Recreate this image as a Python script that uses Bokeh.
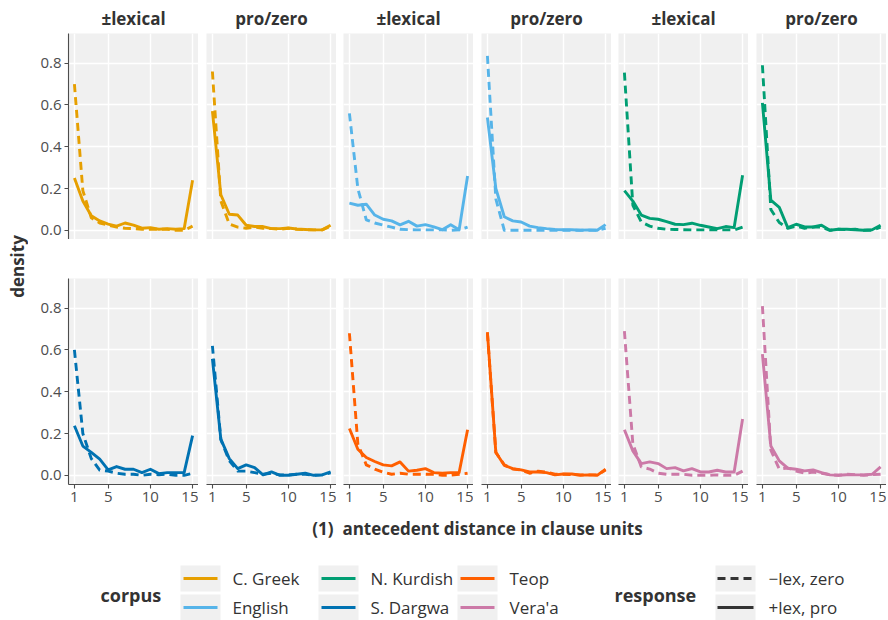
from bokeh.plotting import figure
from bokeh.layouts import row, column
from bokeh.models import Range1d, LinearAxis, FixedTicker, PrintfTickFormatter
from bokeh.core.properties import value
from bokeh.embed import file_html
from bokeh.resources import INLINE

# antecedent distance (clause units)
distance = list(range(1, 16))

# density by distance; "solid" = +lex / pro, "dashed" = -lex / zero
greek_lex_solid = [0.25, 0.14, 0.07, 0.045, 0.03, 0.02, 0.035, 0.025, 0.01, 0.013, 0.005, 0.008, 0.005, 0.008, 0.24]
greek_lex_dashed = [0.70, 0.19, 0.06, 0.035, 0.025, 0.015, 0.01, 0.008, 0.005, 0.005, 0.005, 0.005, 0.0, 0.0, 0.02]
greek_pro_solid = [0.57, 0.17, 0.077, 0.073, 0.024, 0.018, 0.018, 0.008, 0.008, 0.011, 0.006, 0.004, 0.002, 0.002, 0.024]
greek_pro_dashed = [0.76, 0.14, 0.03, 0.015, 0.01, 0.015, 0.01, 0.008, 0.005, 0.01, 0.005, 0.003, 0.002, 0.002, 0.02]

english_lex_solid = [0.13, 0.12, 0.125, 0.073, 0.053, 0.045, 0.026, 0.043, 0.02, 0.027, 0.016, 0.003, 0.027, 0.003, 0.26]
english_lex_dashed = [0.56, 0.2, 0.05, 0.035, 0.025, 0.015, 0.005, 0.003, 0.002, 0.002, 0.002, 0.002, 0.0, 0.002, 0.015]
english_pro_solid = [0.54, 0.2, 0.065, 0.045, 0.04, 0.02, 0.013, 0.008, 0.004, 0.003, 0.003, 0.0, 0.002, 0.0, 0.027]
english_pro_dashed = [0.835, 0.15, 0.0, 0.0, 0.0, 0.0, 0.0, 0.0, 0.0, 0.0, 0.0, 0.0, 0.0, 0.0, 0.01]

kurdish_lex_solid = [0.19, 0.14, 0.073, 0.057, 0.053, 0.042, 0.029, 0.027, 0.034, 0.024, 0.016, 0.008, 0.018, 0.013, 0.264]
kurdish_lex_dashed = [0.755, 0.12, 0.04, 0.02, 0.01, 0.005, 0.004, 0.003, 0.002, 0.002, 0.002, 0.002, 0.002, 0.002, 0.015]
kurdish_pro_solid = [0.61, 0.144, 0.11, 0.013, 0.029, 0.016, 0.016, 0.024, 0.0, 0.005, 0.005, 0.003, 0.0, 0.003, 0.024]
kurdish_pro_dashed = [0.79, 0.1, 0.037, 0.01, 0.02, 0.01, 0.015, 0.015, 0.0, 0.005, 0.003, 0.005, 0.0, 0.0, 0.015]

dargwa_lex_solid = [0.237, 0.14, 0.11, 0.077, 0.026, 0.042, 0.029, 0.029, 0.013, 0.029, 0.008, 0.013, 0.013, 0.013, 0.19]
dargwa_lex_dashed = [0.6, 0.2, 0.08, 0.025, 0.02, 0.01, 0.005, 0.005, 0.0, 0.005, 0.003, 0.005, 0.0, 0.0, 0.01]
dargwa_pro_solid = [0.557, 0.173, 0.08, 0.032, 0.05, 0.037, 0.002, 0.016, 0.0, 0.0, 0.005, 0.01, 0.0, 0.002, 0.016]
dargwa_pro_dashed = [0.62, 0.17, 0.07, 0.02, 0.02, 0.013, 0.005, 0.01, 0.002, 0.002, 0.005, 0.005, 0.0, 0.002, 0.012]

teop_lex_solid = [0.224, 0.125, 0.085, 0.066, 0.05, 0.045, 0.064, 0.02, 0.024, 0.032, 0.013, 0.01, 0.013, 0.013, 0.218]
teop_lex_dashed = [0.68, 0.15, 0.05, 0.03, 0.015, 0.005, 0.01, 0.005, 0.005, 0.005, 0.005, 0.0, 0.0, 0.005, 0.01]
teop_pro_solid = [0.685, 0.109, 0.048, 0.032, 0.026, 0.016, 0.016, 0.013, 0.002, 0.006, 0.006, 0.0, 0.002, 0.0, 0.029]
teop_pro_dashed = [0.68, 0.11, 0.05, 0.03, 0.025, 0.01, 0.02, 0.015, 0.005, 0.005, 0.004, 0.002, 0.002, 0.002, 0.025]

veraa_lex_solid = [0.218, 0.117, 0.056, 0.064, 0.056, 0.032, 0.037, 0.021, 0.032, 0.016, 0.016, 0.024, 0.016, 0.016, 0.27]
veraa_lex_dashed = [0.69, 0.15, 0.04, 0.03, 0.01, 0.005, 0.005, 0.005, 0.0, 0.0, 0.0, 0.002, 0.0, 0.0, 0.02]
veraa_pro_solid = [0.58, 0.14, 0.069, 0.034, 0.029, 0.021, 0.026, 0.013, 0.002, 0.0, 0.003, 0.002, 0.002, 0.005, 0.04]
veraa_pro_dashed = [0.81, 0.12, 0.03, 0.035, 0.02, 0.01, 0.015, 0.01, 0.003, 0.0, 0.005, 0.003, 0.0, 0.003, 0.005]

corpora = ["C. Greek", "English", "N. Kurdish", "S. Dargwa", "Teop", "Vera'a"]
corpus_colors = ["#E69F00", "#56B4E9", "#009E73", "#0072B2", "#FF5F00", "#CC79A7"]
facets = ["\u00b1lexical", "pro/zero"]
responses = ["\u2212lex, zero", "+lex, pro"]
x_ticks = [1, 5, 10, 15]
y_ticks = [0.0, 0.2, 0.4, 0.6, 0.8]

FONT = "Open Sans"
PANEL_BG = "#F0F0F0"
TEXT_DARK = "#333333"
TEXT_TICK = "#4D4D4D"
LINE_W = 2.9
DASH = "8 5"

top_series = [
    (greek_lex_solid, greek_lex_dashed, 0), (greek_pro_solid, greek_pro_dashed, 0),
    (english_lex_solid, english_lex_dashed, 1), (english_pro_solid, english_pro_dashed, 1),
    (kurdish_lex_solid, kurdish_lex_dashed, 2), (kurdish_pro_solid, kurdish_pro_dashed, 2),
]
bottom_series = [
    (dargwa_lex_solid, dargwa_lex_dashed, 3), (dargwa_pro_solid, dargwa_pro_dashed, 3),
    (teop_lex_solid, teop_lex_dashed, 4), (teop_pro_solid, teop_pro_dashed, 4),
    (veraa_lex_solid, veraa_lex_dashed, 5), (veraa_pro_solid, veraa_pro_dashed, 5),
]
gaps = [40, 8, 7, 8, 7, 8]


def make_axis(ticks, fmt=None):
    ax = LinearAxis(ticker=FixedTicker(ticks=ticks))
    if fmt:
        ax.formatter = PrintfTickFormatter(format=fmt)
    ax.axis_line_color = TEXT_TICK
    ax.axis_line_width = 1.1
    ax.major_tick_line_color = TEXT_TICK
    ax.major_tick_line_width = 1.1
    ax.major_tick_in = 0
    ax.major_tick_out = 4
    ax.minor_tick_line_color = None
    ax.major_label_text_font = FONT
    ax.major_label_text_font_size = "15px"
    ax.major_label_text_color = TEXT_TICK
    ax.major_label_standoff = 3
    return ax


def panel(solid, dashed, color, col, top_row):
    p = figure(frame_width=130, frame_height=206,
               x_range=Range1d(0.3, 15.7), y_range=Range1d(-0.044, 0.942),
               x_axis_location=None, y_axis_location=None,
               toolbar_location=None, output_backend="svg",
               min_border_left=gaps[col], min_border_right=0,
               min_border_top=33 if top_row else 39,
               min_border_bottom=0 if top_row else 30,
               background_fill_color=PANEL_BG, border_fill_color="white",
               outline_line_color=None)
    p.xgrid.ticker = FixedTicker(ticks=x_ticks)
    p.ygrid.ticker = FixedTicker(ticks=y_ticks)
    p.grid.grid_line_color = "white"
    p.grid.grid_line_width = 1.4
    if col == 0:
        p.add_layout(make_axis(y_ticks, "%.1f"), "left")
    if not top_row:
        p.add_layout(make_axis(x_ticks), "below")
    if top_row:
        p.title.text = facets[col % 2]
        p.title.align = "center"
        p.title.text_font = FONT
        p.title.text_font_size = "17px"
        p.title.text_font_style = "bold"
        p.title.text_color = TEXT_DARK
        p.title.standoff = 8
    p.line(distance, solid, line_color=color, line_width=LINE_W,
           line_join="round")
    p.line(distance, dashed, line_color=color, line_width=LINE_W,
           line_dash=DASH, line_join="round")
    return p


top_row = row([panel(s, d, corpus_colors[c], i, True)
               for i, (s, d, c) in enumerate(top_series)])
bottom_row = row([panel(s, d, corpus_colors[c], i, False)
                  for i, (s, d, c) in enumerate(bottom_series)])

# y-axis title shared by both rows
ylab = figure(frame_width=28, frame_height=514, x_range=Range1d(0, 28),
              y_range=Range1d(514, 0), x_axis_location=None,
              y_axis_location=None, toolbar_location=None,
              output_backend="svg", min_border=0, outline_line_color=None)
ylab.grid.visible = False
ylab.text(x=[17], y=[266], text=["density"], angle=1.5707963,
          text_align="center", text_baseline="middle",
          text_font=value(FONT), text_font_size="17px",
          text_font_style="bold", text_color=TEXT_DARK)

# x-axis title and legends
leg = figure(frame_width=888, frame_height=106, x_range=Range1d(0, 888),
             y_range=Range1d(106, 0), x_axis_location=None,
             y_axis_location=None, toolbar_location=None,
             output_backend="svg", min_border=0, outline_line_color=None)
leg.grid.visible = False
leg.text(x=[477], y=[14],
         text=["(1)\u00a0\u00a0antecedent distance in clause units"],
         text_align="center", text_baseline="middle",
         text_font=value(FONT), text_font_size="17px",
         text_font_style="bold", text_color=TEXT_DARK)

title_kw = dict(text_baseline="middle", text_font=value(FONT),
                text_font_size="18px", text_font_style="bold",
                text_color=TEXT_DARK)
label_kw = dict(text_baseline="middle", text_font=value(FONT),
                text_font_size="17px", text_color=TEXT_DARK)

leg.text(x=[100], y=[80], text=["corpus"], **title_kw)
key_cols = [200, 338, 477]
label_cols = [232, 370, 509]
key_rows = [64, 93]
for i, name in enumerate(corpora):
    kx = key_cols[i // 2]
    ky = key_rows[i % 2]
    leg.rect(x=[kx], y=[ky], width=40, height=26, fill_color=PANEL_BG,
             line_color=None)
    leg.line(x=[kx - 17, kx + 17], y=[ky, ky], line_color=corpus_colors[i],
             line_width=LINE_W)
    leg.text(x=[label_cols[i // 2]], y=[ky], text=[name], **label_kw)

leg.text(x=[614], y=[80], text=["response"], **title_kw)
for j, lab in enumerate(responses):
    ky = key_rows[j]
    leg.rect(x=[735], y=[ky], width=40, height=26, fill_color=PANEL_BG,
             line_color=None)
    leg.line(x=[717, 753], y=[ky, ky], line_color=TEXT_DARK,
             line_width=LINE_W, line_dash=DASH if j == 0 else "solid")
    leg.text(x=[768], y=[ky], text=[lab], **label_kw)

page = column(row(ylab, column(top_row, bottom_row)), leg)

open("out.html", "w").write(file_html(page, INLINE))
